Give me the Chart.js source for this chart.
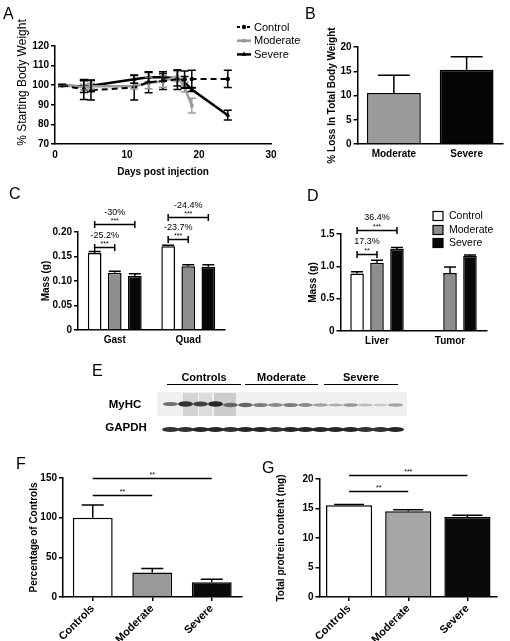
<!DOCTYPE html>
<html>
<head>
<meta charset="utf-8">
<script src="https://cdn.jsdelivr.net/npm/chart.js@4.4.1/dist/chart.umd.min.js"></script>
<style>
  body { margin: 0; background: #fff; }
  #fig { position: relative; width: 510px; height: 641px; overflow: hidden; font-family: "Liberation Sans", Arial, sans-serif; }
  #fig canvas { position: absolute; }
  .pl { position: absolute; font-size: 16px; line-height: 16px; }
  .tx { position: absolute; font-weight: bold; text-align: center; white-space: nowrap; }
  .rule { position: absolute; border-top: 1.5px solid #000; height: 0; }
</style>
</head>
<body>
<div id="fig">
  <canvas id="cA" width="300" height="185" style="left:0;top:0"></canvas>
  <canvas id="cB" width="210" height="170" style="left:300px;top:0"></canvas>
  <canvas id="cC" width="290" height="165" style="left:0;top:185px"></canvas>
  <canvas id="cD" width="215" height="165" style="left:295px;top:185px"></canvas>
  <canvas id="cE" width="510" height="100" style="left:0;top:355px"></canvas>
  <canvas id="cF" width="255" height="186" style="left:0;top:455px"></canvas>
  <canvas id="cG" width="255" height="186" style="left:255px;top:455px"></canvas>

  <div class="pl" style="left:3px;top:6px">A</div>
  <div class="pl" style="left:305px;top:6px">B</div>
  <div class="pl" style="left:9px;top:186px">C</div>
  <div class="pl" style="left:307px;top:188px">D</div>
  <div class="pl" style="left:92px;top:363px">E</div>
  <div class="pl" style="left:16px;top:456px">F</div>
  <div class="pl" style="left:262px;top:460px">G</div>

  <div class="tx" style="left:167px;width:74px;top:371px;font-size:11px;line-height:13px">Controls</div>
  <div class="tx" style="left:245px;width:73px;top:371px;font-size:11px;line-height:13px">Moderate</div>
  <div class="tx" style="left:324px;width:74px;top:371px;font-size:11px;line-height:13px">Severe</div>
  <div class="rule" style="left:167px;width:74px;top:384px"></div>
  <div class="rule" style="left:245px;width:73px;top:384px"></div>
  <div class="rule" style="left:324px;width:74px;top:384px"></div>
  <div class="tx" style="left:95px;width:60px;top:398px;font-size:11.5px;line-height:13px">MyHC</div>
  <div class="tx" style="left:96px;width:60px;top:421px;font-size:11.5px;line-height:13px">GAPDH</div>
</div>

<script>
// A - body weight over time
const daysCtrl = [1, 4, 5, 11, 13, 15, 17, 18, 19, 24];
const weightCtrl = [100, 97.8, 97.4, 98.8, 101.5, 102.3, 102.8, 103, 103.1, 103.2];
const weightCtrlErr = [0.5, 5.1, 5, 6.4, 5.3, 4.5, 5, 4.2, 4.5, 4.4];
const daysMod = [1, 4, 5, 11, 13, 15, 17, 18, 19];
const weightMod = [100.2, 99, 99.5, 99.5, 101.2, 102, 104.5, 99, 89.6];
const weightModErr = [0.5, 1.5, 1.5, 1.5, 3, 3, 2.5, 2.5, 3.8];
const daysSev = [1, 4, 5, 11, 13, 15, 17, 18, 19, 24];
const weightSev = [99.8, 99.3, 99.7, 103, 104, 104, 103.6, 101.5, 97.8, 84.7];
const weightSevErr = [0.5, 3, 3, 2, 2.5, 2, 4, 3, 1, 2.5];

// B - % loss in total body weight
const groupsB = ['Moderate', 'Severe'];
const lossB = [10.5, 15.3];
const lossErrB = [3.7, 2.7];

// C - muscle mass
const musclesC = ['Gast', 'Quad'];
const massCtrlC = [0.157, 0.171];
const massCtrlErrC = [0.003, 0.002];
const massModC = [0.117, 0.130];
const massModErrC = [0.003, 0.003];
const massSevC = [0.110, 0.129];
const massSevErrC = [0.005, 0.004];

// D - organ mass
const organsD = ['Liver', 'Tumor'];
const massCtrlD = [0.89, null];
const massCtrlErrD = [0.025, 0];
const massModD = [1.055, 0.895];
const massModErrD = [0.04, 0.095];
const massSevD = [1.267, 1.159];
const massSevErrD = [0.026, 0.015];

// E - blot band intensities (16 lanes)
const bandMyHC = [0.55, 0.8, 0.75, 0.85, 0.6, 0.6, 0.5, 0.45, 0.5, 0.45, 0.35, 0.3, 0.4, 0.25, 0.2, 0.35];
const bandGAPDH = [0.8, 0.8, 0.85, 0.85, 0.8, 0.85, 0.85, 0.8, 0.85, 0.85, 0.85, 0.85, 0.85, 0.8, 0.8, 0.85];

// F / G
const groupsFG = ['Controls', 'Moderate', 'Severe'];
const myhcF = [100, 30.8, 18.6];
const myhcErrF = [16, 5, 3.8];
const proteinG = [15.55, 14.55, 13.58];
const proteinErrG = [0.12, 0.25, 0.28];

const FONT = '"Liberation Sans", Arial, sans-serif';
Chart.defaults.font.family = FONT;
Chart.defaults.color = '#000';
Chart.defaults.animation = false;
Chart.defaults.plugins.legend.display = false;
Chart.defaults.plugins.tooltip.enabled = false;

// error bars (upper only for bars, both for points)
const errorBars = {
  id: 'errorBars',
  afterDatasetsDraw(chart) {
    const ctx = chart.ctx, ys = chart.scales.y;
    chart.data.datasets.forEach((ds, i) => {
      if (!ds.errs) return;
      chart.getDatasetMeta(i).data.forEach((el, j) => {
        const raw = ds.data[j];
        const v = raw !== null && typeof raw === 'object' ? raw.y : raw;
        if (v == null || !ds.errs[j]) return;
        const top = ys.getPixelForValue(v + ds.errs[j]);
        const bot = ys.getPixelForValue(ds.both ? v - ds.errs[j] : v);
        const w = ds.capW / 2;
        ctx.save();
        ctx.strokeStyle = ds.errColor || '#000';
        ctx.lineWidth = 1.5;
        ctx.beginPath();
        ctx.moveTo(el.x, top); ctx.lineTo(el.x, bot);
        ctx.moveTo(el.x - w, top); ctx.lineTo(el.x + w, top);
        if (ds.both) { ctx.moveTo(el.x - w, bot); ctx.lineTo(el.x + w, bot); }
        ctx.stroke();
        ctx.restore();
      });
    });
  }
};
Chart.register(errorBars);

// significance lines
function sigLines(list, caps, labelGap) {
  return {
    id: 'sig',
    afterDatasetsDraw(chart) {
      const ctx = chart.ctx, ys = chart.scales.y;
      ctx.save();
      ctx.strokeStyle = '#000';
      ctx.fillStyle = '#000';
      ctx.lineWidth = 1.5;
      ctx.textAlign = 'center';
      list.forEach(b => {
        const x1 = chart.getDatasetMeta(b.from[1]).data[b.from[0]].x;
        const x2 = chart.getDatasetMeta(b.to[1]).data[b.to[0]].x;
        const y = Math.round(ys.getPixelForValue(b.y)) + 0.5;
        ctx.beginPath();
        ctx.moveTo(x1, y); ctx.lineTo(x2, y);
        if (caps) {
          ctx.moveTo(x1, y - 3.5); ctx.lineTo(x1, y + 3.5);
          ctx.moveTo(x2, y - 3.5); ctx.lineTo(x2, y + 3.5);
        }
        ctx.stroke();
        ctx.font = '7px ' + FONT;
        ctx.fillText(b.stars, (x1 + x2) / 2, y - 1.5);
        if (b.label) {
          ctx.font = '9px ' + FONT;
          ctx.fillText(b.label, (x1 + x2) / 2, y - labelGap);
        }
      });
      ctx.restore();
    }
  };
}

// box legend for bar panels
function boxLegend(x, ys, names, fills) {
  return {
    id: 'boxLegend',
    afterDraw(chart) {
      const ctx = chart.ctx;
      ctx.save();
      names.forEach((n, i) => {
        ctx.fillStyle = fills[i];
        ctx.strokeStyle = '#000';
        ctx.lineWidth = 1.2;
        ctx.fillRect(x, ys[i] - 4.5, 10, 9);
        ctx.strokeRect(x, ys[i] - 4.5, 10, 9);
        ctx.fillStyle = '#000';
        ctx.font = '10.5px ' + FONT;
        ctx.textBaseline = 'middle';
        ctx.textAlign = 'left';
        ctx.fillText(n, x + 16, ys[i] + 0.5);
      });
      ctx.restore();
    }
  };
}

function fixW(w) { return s => { s.width = w; }; }
function fixH(h) { return s => { s.height = h; }; }

function yAxis(min, max, step, title, titleFont, titlePad, width) {
  return {
    min: min, max: max,
    afterFit: fixW(width),
    ticks: { stepSize: step, font: { size: 10, weight: 'bold' }, padding: 2 },
    grid: { drawOnChartArea: false, color: '#000', lineWidth: 1.5, tickLength: 4 },
    border: { color: '#000', width: 1.5 },
    title: { display: !!title, text: title, font: titleFont, padding: { top: titlePad, bottom: 0 } }
  };
}

function catAxis(height, rotate) {
  return {
    afterFit: fixH(height),
    ticks: rotate
      ? { font: { size: 11, weight: 'bold' }, minRotation: 45, maxRotation: 45, padding: 1, autoSkip: false }
      : { font: { size: 10, weight: 'bold' }, padding: 4, autoSkip: false },
    grid: { offset: false, drawOnChartArea: false, drawTicks: !!rotate, color: '#000', lineWidth: 1.5, tickLength: 4 },
    border: { color: '#000', width: 1.5 }
  };
}

function pts(xs, ys) { return xs.map((x, i) => ({ x: x, y: ys[i] })); }

// Panel A
new Chart(document.getElementById('cA'), {
  type: 'scatter',
  data: {
    datasets: [
      { label: 'Control', data: pts(daysCtrl, weightCtrl), showLine: true, borderColor: '#000', backgroundColor: '#000',
        borderWidth: 2, borderDash: [6, 4], pointStyle: 'circle', pointRadius: 2.2, pointBorderWidth: 0,
        errs: weightCtrlErr, both: true, capW: 8 },
      { label: 'Moderate', data: pts(daysMod, weightMod), showLine: true, borderColor: '#9a9a9a', backgroundColor: '#9a9a9a',
        borderWidth: 2.5, pointStyle: 'rect', pointRadius: 2.6, pointBorderWidth: 0,
        errs: weightModErr, both: true, capW: 8, errColor: '#9a9a9a' },
      { label: 'Severe', data: pts(daysSev, weightSev), showLine: true, borderColor: '#000', backgroundColor: '#000',
        borderWidth: 2.5, pointStyle: 'triangle', pointRadius: 2.8, pointBorderWidth: 0,
        errs: weightSevErr, both: true, capW: 8 }
    ]
  },
  options: {
    responsive: false,
    layout: { padding: { top: 46, right: 29, left: 0, bottom: 0 } },
    scales: {
      x: {
        type: 'linear', min: 0, max: 30,
        afterFit: fixH(41),
        ticks: { stepSize: 10, font: { size: 10, weight: 'bold' }, padding: 5 },
        grid: { drawOnChartArea: false, drawTicks: false },
        border: { color: '#000', width: 1.5 },
        title: { display: true, text: 'Days post injection', font: { size: 10, weight: 'bold' }, padding: { top: 0, bottom: 7 } }
      },
      y: yAxis(70, 120, 10, '', { size: 12 }, 16, 55)
    }
  },
  plugins: [{
    id: 'legendA',
    afterDraw(chart) {
      const ctx = chart.ctx;
      // y-axis title, centred where the original sits
      ctx.save();
      ctx.translate(23, 82.5);
      ctx.rotate(-Math.PI / 2);
      ctx.font = '12px ' + FONT;
      ctx.fillStyle = '#000';
      ctx.textAlign = 'center';
      ctx.textBaseline = 'middle';
      ctx.fillText('% Starting Body Weight', 0, 0);
      ctx.restore();
      chart.data.datasets.forEach((ds, i) => {
        const y = 27 + i * 13.7;
        ctx.save();
        ctx.strokeStyle = ds.borderColor;
        ctx.fillStyle = ds.backgroundColor;
        ctx.lineWidth = ds.borderWidth;
        ctx.setLineDash(ds.borderDash ? [3, 2] : []);
        ctx.beginPath(); ctx.moveTo(237, y); ctx.lineTo(251, y); ctx.stroke();
        ctx.setLineDash([]);
        Chart.helpers.drawPoint(ctx, { pointStyle: ds.pointStyle, radius: ds.pointRadius, borderWidth: 0, rotation: 0 }, 244, y);
        ctx.fillStyle = '#000';
        ctx.font = '11px ' + FONT;
        ctx.textBaseline = 'middle';
        ctx.fillText(ds.label, 254, y + 0.5);
        ctx.restore();
      });
    }
  }]
});

// Panel B
new Chart(document.getElementById('cB'), {
  type: 'bar',
  data: {
    labels: groupsB,
    datasets: [{ data: lossB, backgroundColor: ['#9b9b9b', '#050505'], borderColor: '#000', borderWidth: 1.5,
      barPercentage: 0.74, categoryPercentage: 1, errs: lossErrB, capW: 32 }]
  },
  options: {
    responsive: false,
    layout: { padding: { top: 47, right: 7, left: 0, bottom: 0 } },
    scales: {
      x: catAxis(26, false),
      y: yAxis(0, 20, 5, '% Loss In Total Body Weight', { size: 10, weight: 'bold' }, 26, 57.5)
    }
  }
});

// Panel C
new Chart(document.getElementById('cC'), {
  type: 'bar',
  data: {
    labels: musclesC,
    datasets: [
      { label: 'Control', data: massCtrlC, backgroundColor: '#fff', borderColor: '#000', borderWidth: 1.5, errs: massCtrlErrC, capW: 12 },
      { label: 'Moderate', data: massModC, backgroundColor: '#8e8e8e', borderColor: '#000', borderWidth: 1.5, errs: massModErrC, capW: 12 },
      { label: 'Severe', data: massSevC, backgroundColor: '#080808', borderColor: '#000', borderWidth: 1.5, errs: massSevErrC, capW: 12 }
    ]
  },
  options: {
    responsive: false,
    layout: { padding: { top: 47, right: 65, left: 0, bottom: 0 } },
    datasets: { bar: { barPercentage: 0.68, categoryPercentage: 0.82 } },
    scales: {
      x: catAxis(20, false),
      y: yAxis(0, 0.2, 0.05, 'Mass (g)', { size: 10, weight: 'bold' }, 40, 78)
    }
  },
  plugins: [
    sigLines([
      { from: [0, 0], to: [0, 1], y: 0.1694, stars: '***', label: '-25.2%' },
      { from: [0, 0], to: [0, 2], y: 0.2163, stars: '***', label: '-30%' },
      { from: [1, 0], to: [1, 2], y: 0.2306, stars: '***', label: '-24.4%' },
      { from: [1, 0], to: [1, 1], y: 0.1857, stars: '***', label: '-23.7%' }
    ], true, 10),
    boxLegend(218, [218, 232, 244], ['Control', 'Moderate', 'Severe'], ['#fff', '#8e8e8e', '#080808'])
  ]
});

// Panel D
new Chart(document.getElementById('cD'), {
  type: 'bar',
  data: {
    labels: organsD,
    datasets: [
      { label: 'Control', data: massCtrlD, backgroundColor: '#fff', borderColor: '#000', borderWidth: 1.5, errs: massCtrlErrD, capW: 12 },
      { label: 'Moderate', data: massModD, backgroundColor: '#8e8e8e', borderColor: '#000', borderWidth: 1.5, errs: massModErrD, capW: 12 },
      { label: 'Severe', data: massSevD, backgroundColor: '#080808', borderColor: '#000', borderWidth: 1.5, errs: massSevErrD, capW: 12 }
    ]
  },
  options: {
    responsive: false,
    layout: { padding: { top: 49, right: 23.5, left: 0, bottom: 0 } },
    datasets: { bar: { barPercentage: 0.68, categoryPercentage: 0.82 } },
    scales: {
      x: catAxis(19, false),
      y: yAxis(0, 1.5, 0.5, 'Mass (g)', { size: 10, weight: 'bold' }, 12, 45.5)
    }
  },
  plugins: [
    sigLines([
      { from: [0, 0], to: [0, 2], y: 1.562, stars: '***', label: '36.4%' },
      { from: [0, 0], to: [0, 1], y: 1.19, stars: '**', label: '17.3%' }
    ], true, 11),
    boxLegend(138, [31, 45, 58], ['Control', 'Moderate', 'Severe'], ['#fff', '#8e8e8e', '#080808'])
  ]
});

// Panel E - western blot
(function drawBlot() {
  const ctx = document.getElementById('cE').getContext('2d');
  ctx.fillStyle = '#f0f0f0';
  ctx.fillRect(157, 37, 250, 24);
  ctx.fillStyle = '#d4d4d4';
  ctx.fillRect(183, 38, 15, 23);
  ctx.fillStyle = '#dcdcdc';
  ctx.fillRect(199, 38, 13, 23);
  ctx.fillStyle = '#cdcdcd';
  ctx.fillRect(214, 38, 22, 23);
  bandMyHC.forEach((a, i) => {
    const g = Math.round(250 * (1 - a));
    ctx.fillStyle = 'rgb(' + g + ',' + g + ',' + g + ')';
    ctx.beginPath();
    ctx.ellipse(170.5 + i * 15, i < 4 ? 49 : 50, 7.5, 0.8 + a * 2.4, 0, 0, Math.PI * 2);
    ctx.fill();
  });
  bandGAPDH.forEach((a, i) => {
    const g = Math.round(250 * (1 - a));
    ctx.fillStyle = 'rgb(' + g + ',' + g + ',' + g + ')';
    ctx.beginPath();
    ctx.ellipse(170.5 + i * 15, 74.5, 8.5, 2.6, 0, 0, Math.PI * 2);
    ctx.fill();
  });
})();

// Panel F
new Chart(document.getElementById('cF'), {
  type: 'bar',
  data: {
    labels: groupsFG,
    datasets: [{ data: myhcF, backgroundColor: ['#fff', '#999999', '#0a0a0a'], borderColor: '#000', borderWidth: 1.5,
      barPercentage: 0.67, categoryPercentage: 1, errs: myhcErrF, capW: 22 }]
  },
  options: {
    responsive: false,
    layout: { padding: { top: 23, right: 13.5, left: 0, bottom: 0 } },
    scales: {
      x: catAxis(44, true),
      y: yAxis(0, 150, 50, 'Percentage of Controls', { size: 10, weight: 'bold' }, 28, 63)
    }
  },
  plugins: [sigLines([
    { from: [0, 0], to: [2, 0], y: 150, stars: '**' },
    { from: [0, 0], to: [1, 0], y: 128.6, stars: '**' }
  ], false, 0)]
});

// Panel G
new Chart(document.getElementById('cG'), {
  type: 'bar',
  data: {
    labels: groupsFG,
    datasets: [{ data: proteinG, backgroundColor: ['#fff', '#a6a6a6', '#0a0a0a'], borderColor: '#000', borderWidth: 1.5,
      barPercentage: 0.78, categoryPercentage: 1, errs: proteinErrG, capW: 30 }]
  },
  options: {
    responsive: false,
    layout: { padding: { top: 24, right: 13, left: 0, bottom: 0 } },
    scales: {
      x: catAxis(44, true),
      y: yAxis(0, 20, 5, 'Total protrein content (mg)', { size: 10, weight: 'bold' }, 20, 64.5)
    }
  },
  plugins: [sigLines([
    { from: [0, 0], to: [2, 0], y: 20.7, stars: '***' },
    { from: [0, 0], to: [1, 0], y: 18.0, stars: '**' }
  ], false, 0)]
});
</script>
</body>
</html>
